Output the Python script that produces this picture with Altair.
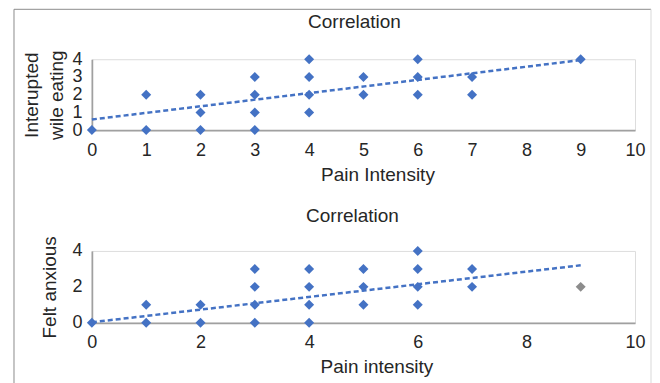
import altair as alt
import pandas as pd

# ---- data ----
top_pain = [0, 1, 1, 2, 2, 2, 3, 3, 3, 3, 4, 4, 4, 4, 5, 5, 6, 6, 6, 7, 7, 9]
top_interrupted = [0, 0, 2, 0, 1, 2, 0, 1, 2, 3, 1, 2, 3, 4, 2, 3, 2, 3, 4, 2, 3, 4]
top_trend_x = [0, 9]
top_trend_y = [0.6, 3.95]

bot_pain = [0, 1, 1, 2, 2, 3, 3, 3, 3, 4, 4, 4, 4, 5, 5, 5, 6, 6, 6, 6, 7, 7, 9]
bot_anxious = [0, 0, 1, 0, 1, 0, 1, 2, 3, 0, 1, 2, 3, 1, 2, 3, 1, 2, 3, 4, 2, 3, 2]
bot_series = ["main"] * 22 + ["other"]
bot_trend_x = [0, 9]
bot_trend_y = [0.03, 3.2]

x_ticks_top = [0, 1, 2, 3, 4, 5, 6, 7, 8, 9, 10]
x_ticks_bot = [0, 2, 4, 6, 8, 10]
y_ticks_top = [0, 1, 2, 3, 4]
y_ticks_bot = [0, 2, 4]
chart_title = ["Correlation"]

BLUE = "#4472C4"
GRAY = "#8C8C8C"
TEXT = "#262626"
AXIS = "#A0A0A0"
FONT = "Liberation Sans"
W, H1, H2 = 544, 71, 72

df_top = pd.DataFrame({"pain": top_pain, "val": top_interrupted})
df_top_tr = pd.DataFrame({"pain": top_trend_x, "val": top_trend_y})
df_bot = pd.DataFrame({"pain": bot_pain, "val": bot_anxious, "series": bot_series})
df_bot_tr = pd.DataFrame({"pain": bot_trend_x, "val": bot_trend_y})
df_frame = pd.DataFrame({"a": [0]})
df_title = pd.DataFrame({"t": chart_title})


def axis(values, title, lab_pad, title_pad, **kw):
    return alt.Axis(values=values, title=title, labelPadding=lab_pad, titlePadding=title_pad,
                    ticks=False, tickSize=0, grid=False, domainColor=AXIS, domainWidth=1.75,
                    labelFont=FONT, labelFontSize=18, labelColor=TEXT,
                    titleFont=FONT, titleFontSize=19, titleFontWeight="normal", titleColor=TEXT,
                    labelFlush=False, labelOverlap=False, **kw)


xs = alt.Scale(domain=[0, 10], nice=False, zero=False)
ys = alt.Scale(domain=[0, 4], nice=False)


def title_text(xpos, ypos):
    return alt.Chart(df_title).mark_text(font=FONT, fontSize=19, color=TEXT, align="center",
                                         baseline="middle").encode(
        text="t:N", x=alt.value(xpos), y=alt.value(ypos))


# ---- top panel ----
xt = alt.X("pain:Q", scale=xs, axis=axis(x_ticks_top, "Pain Intensity", 11, 6, titleX=286))
yt = alt.Y("val:Q", scale=ys, axis=axis(y_ticks_top, ["Interupted", "wile eating"], 10, 5,
                                        titleLineHeight=25))

top_pts = alt.Chart(df_top).mark_point(shape="diamond", filled=True, size=100, opacity=1,
                                         color=BLUE).encode(x=xt, y=yt)
top_line = alt.Chart(df_top_tr).mark_line(color=BLUE, strokeWidth=2.5, strokeDash=[5, 3]).encode(
    x=xt, y=yt)

frame_top = alt.Chart(df_frame).mark_rule(color="#8C8C8C", strokeWidth=1).encode(
    x=alt.value(-78), x2=alt.value(560), y=alt.value(-50))
frame_left = alt.Chart(df_frame).mark_rule(color="#8C8C8C", strokeWidth=1).encode(
    x=alt.value(-78), y=alt.value(-50), y2=alt.value(335))
frame_right = alt.Chart(df_frame).mark_rule(color="#D9D9D9", strokeWidth=1).encode(
    x=alt.value(560), y=alt.value(-50), y2=alt.value(335))

top = alt.layer(frame_top, frame_left, frame_right, title_text(263, -37),
                top_pts, top_line).properties(width=W, height=H1)

# ---- bottom panel ----
xb = alt.X("pain:Q", scale=xs, axis=axis(x_ticks_bot, "Pain intensity", 11, 6, titleX=285))
yb = alt.Y("val:Q", scale=ys, axis=axis(y_ticks_bot, "Felt anxious", 10, 12))

bot_pts = alt.Chart(df_bot).mark_point(shape="diamond", filled=True, size=100, opacity=1).encode(
    x=xb, y=yb,
    color=alt.Color("series:N", scale=alt.Scale(domain=["main", "other"], range=[BLUE, GRAY]),
                    legend=None))
bot_line = alt.Chart(df_bot_tr).mark_line(color=BLUE, strokeWidth=2.5, strokeDash=[5, 3]).encode(
    x=xb, y=yb)

bottom = alt.layer(title_text(261, -35), bot_pts, bot_line).properties(width=W, height=H2)

chart = alt.vconcat(top, bottom, spacing=121, bounds="flush").properties(
    padding={"left": 5, "top": 0, "right": 0, "bottom": 0}
).configure_view(strokeWidth=0).configure_axis(labelOverlap=False).configure(background="white")

chart.save("out.html", embed_options={"renderer": "svg", "actions": False})
